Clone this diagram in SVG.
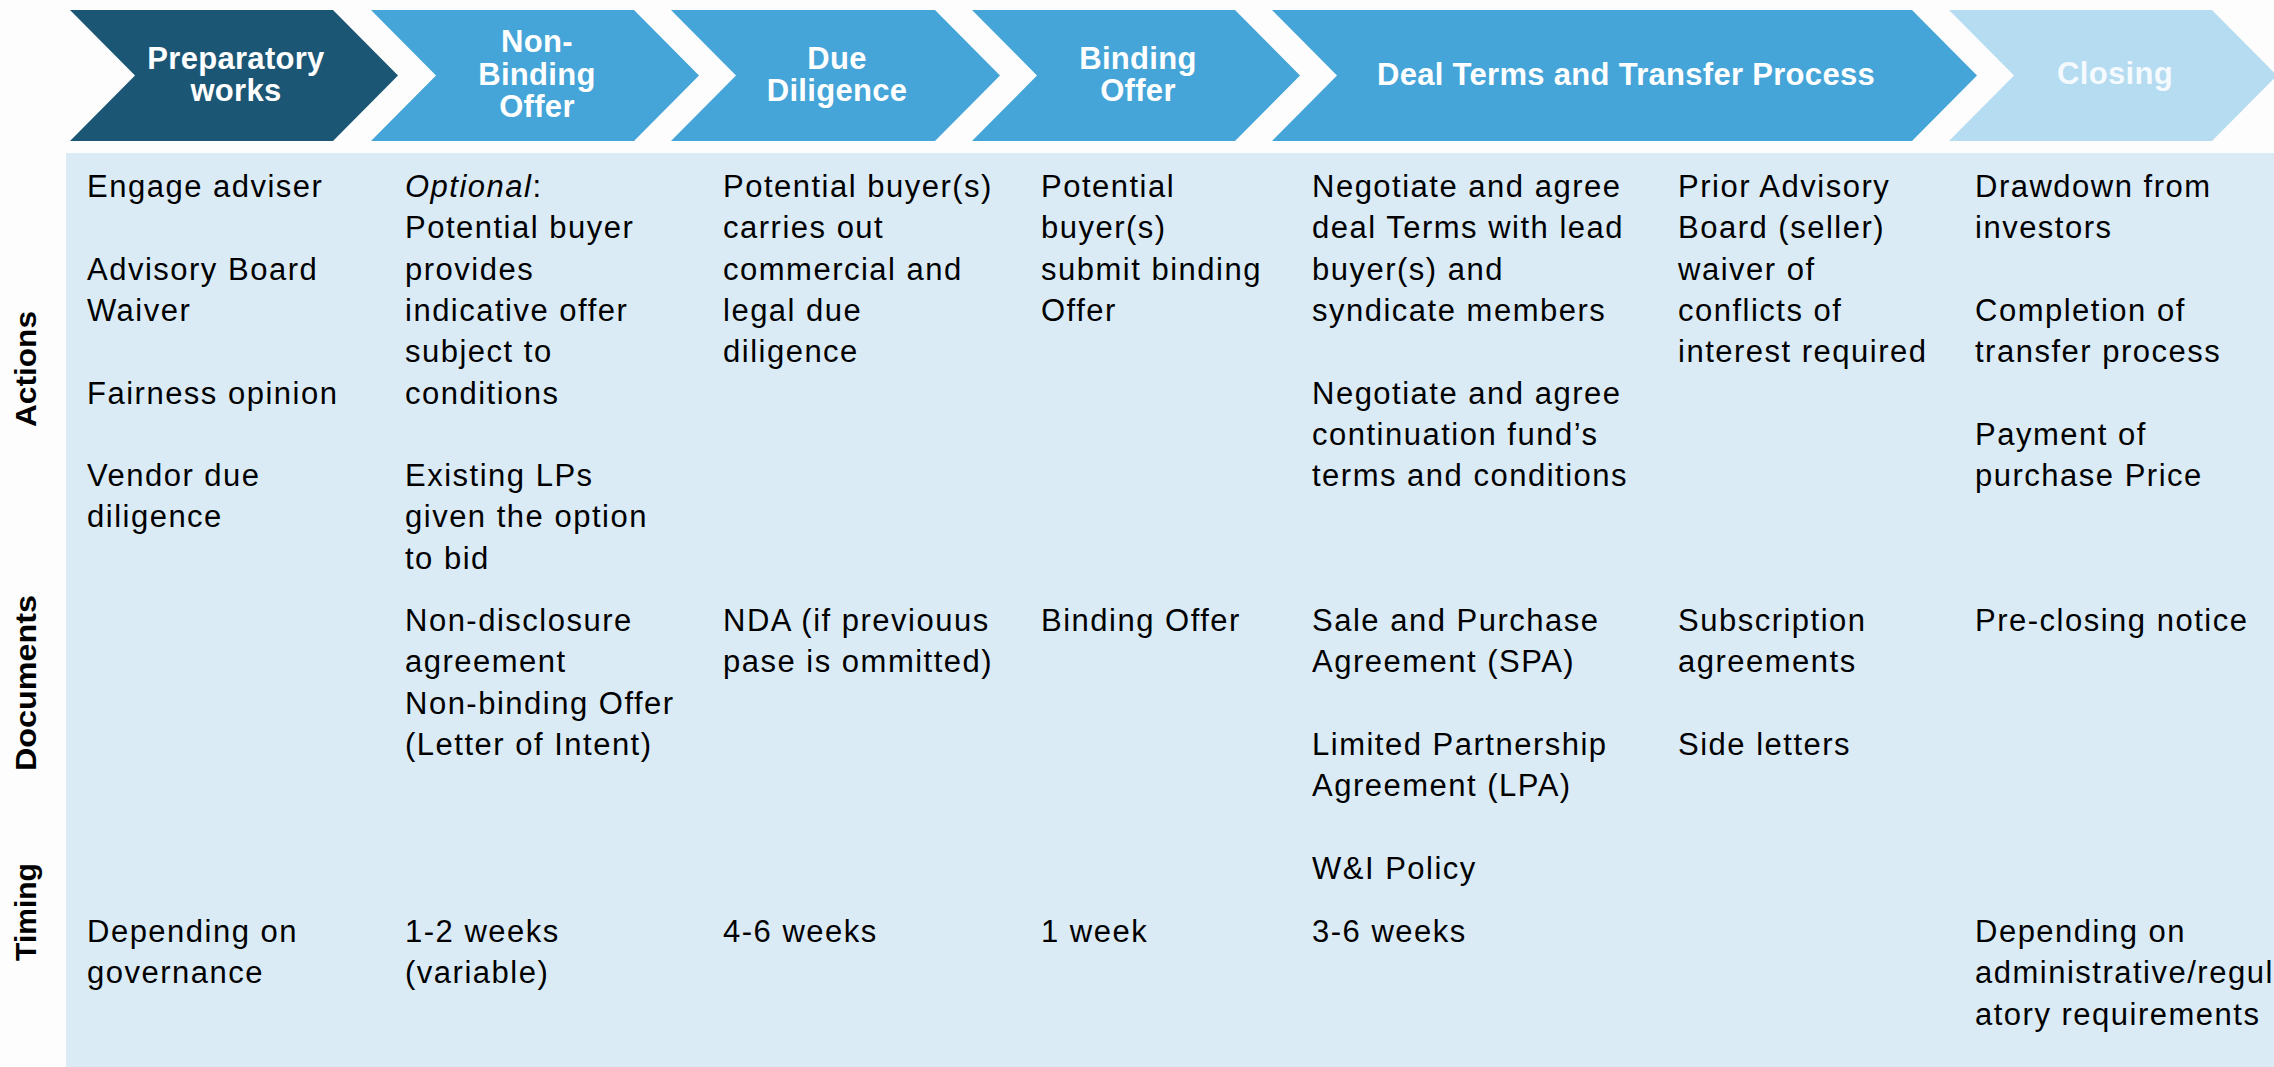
<svg xmlns="http://www.w3.org/2000/svg" width="2274" height="1067" viewBox="0 0 2274 1067">
<style>
.bg{fill:#FDFDFD}
.panel{fill:#DAEBF6}
.c-dark{fill:#1B5675}
.c-mid{fill:#45A5D8}
.c-light{fill:#B5DCF0}
.h{font-family:"Liberation Sans",Arial,sans-serif;font-weight:bold;font-size:31px;letter-spacing:0.3px;fill:#FFFFFF;text-anchor:middle}
.h2{fill:#F4FAFD}
.lab{font-family:"Liberation Sans",Arial,sans-serif;font-weight:bold;font-size:30px;fill:#000000;text-anchor:middle}
.t{font-family:"Liberation Sans",Arial,sans-serif;font-size:31px;letter-spacing:1.5px;fill:#000000}
</style>
<rect class="bg" x="0" y="0" width="2274" height="1067"/>
<rect class="panel" x="66" y="153" width="2208" height="914"/>

<g id="stage-preparatory">
<polygon class="c-dark" points="70,10 333,10 398,75.5 333,141 70,141 135,75.5"/>
<text class="h"><tspan x="236" y="69">Preparatory</tspan><tspan x="236" y="101">works</tspan></text>
</g>
<g id="stage-nonbinding">
<polygon class="c-mid" points="371,10 634,10 699,75.5 634,141 371,141 436,75.5"/>
<text class="h"><tspan x="537" y="52">Non-</tspan><tspan x="537" y="84.5">Binding</tspan><tspan x="537" y="117">Offer</tspan></text>
</g>
<g id="stage-duediligence">
<polygon class="c-mid" points="671,10 935,10 1000,75.5 935,141 671,141 736,75.5"/>
<text class="h"><tspan x="837" y="69">Due</tspan><tspan x="837" y="101">Diligence</tspan></text>
</g>
<g id="stage-binding">
<polygon class="c-mid" points="972,10 1235,10 1300,75.5 1235,141 972,141 1037,75.5"/>
<text class="h"><tspan x="1138" y="69">Binding</tspan><tspan x="1138" y="101">Offer</tspan></text>
</g>
<g id="stage-dealterms">
<polygon class="c-mid" points="1272,10 1912,10 1977,75.5 1912,141 1272,141 1337,75.5"/>
<text class="h" x="1626" y="85">Deal Terms and Transfer Process</text>
</g>
<g id="stage-closing">
<polygon class="c-light" points="1949,10 2212,10 2277,75.5 2212,141 1949,141 2014,75.5"/>
<text class="h h2" x="2115" y="84">Closing</text>
</g>

<g id="row-labels">
<text class="lab" transform="translate(36,369) rotate(-90)" textLength="116" lengthAdjust="spacingAndGlyphs">Actions</text>
<text class="lab" transform="translate(36,683) rotate(-90)" textLength="176" lengthAdjust="spacingAndGlyphs">Documents</text>
<text class="lab" transform="translate(36,912) rotate(-90)">Timing</text>
</g>

<g id="col-preparatory">
<text class="t"><tspan x="87" y="197">Engage adviser</tspan><tspan x="87" y="279.6">Advisory Board</tspan><tspan x="87" y="320.9">Waiver</tspan><tspan x="87" y="403.5">Fairness opinion</tspan><tspan x="87" y="486.1">Vendor due</tspan><tspan x="87" y="527.4">diligence</tspan></text>
<text class="t"><tspan x="87" y="942">Depending on</tspan><tspan x="87" y="983.3">governance</tspan></text>
</g>

<g id="col-nonbinding">
<text class="t"><tspan x="405" y="197" font-style="italic">Optional</tspan><tspan>:</tspan><tspan x="405" y="238.3">Potential buyer</tspan><tspan x="405" y="279.6">provides</tspan><tspan x="405" y="320.9">indicative offer</tspan><tspan x="405" y="362.2">subject to</tspan><tspan x="405" y="403.5">conditions</tspan><tspan x="405" y="486.1">Existing LPs</tspan><tspan x="405" y="527.4">given the option</tspan><tspan x="405" y="568.7">to bid</tspan></text>
<text class="t"><tspan x="405" y="631">Non-disclosure</tspan><tspan x="405" y="672.3">agreement</tspan><tspan x="405" y="713.6">Non-binding Offer</tspan><tspan x="405" y="754.9">(Letter of Intent)</tspan></text>
<text class="t"><tspan x="405" y="942">1-2 weeks</tspan><tspan x="405" y="983.3">(variable)</tspan></text>
</g>

<g id="col-duediligence">
<text class="t"><tspan x="723" y="197">Potential buyer(s)</tspan><tspan x="723" y="238.3">carries out</tspan><tspan x="723" y="279.6">commercial and</tspan><tspan x="723" y="320.9">legal due</tspan><tspan x="723" y="362.2">diligence</tspan></text>
<text class="t"><tspan x="723" y="631">NDA (if previouus</tspan><tspan x="723" y="672.3">pase is ommitted)</tspan></text>
<text class="t" x="723" y="942">4-6 weeks</text>
</g>

<g id="col-binding">
<text class="t"><tspan x="1041" y="197">Potential</tspan><tspan x="1041" y="238.3">buyer(s)</tspan><tspan x="1041" y="279.6">submit binding</tspan><tspan x="1041" y="320.9">Offer</tspan></text>
<text class="t" x="1041" y="631">Binding Offer</text>
<text class="t" x="1041" y="942">1 week</text>
</g>

<g id="col-dealterms">
<text class="t"><tspan x="1312" y="197">Negotiate and agree</tspan><tspan x="1312" y="238.3">deal Terms with lead</tspan><tspan x="1312" y="279.6">buyer(s) and</tspan><tspan x="1312" y="320.9">syndicate members</tspan><tspan x="1312" y="403.5">Negotiate and agree</tspan><tspan x="1312" y="444.8">continuation fund’s</tspan><tspan x="1312" y="486.1">terms and conditions</tspan></text>
<text class="t"><tspan x="1312" y="631">Sale and Purchase</tspan><tspan x="1312" y="672.3">Agreement (SPA)</tspan><tspan x="1312" y="754.9">Limited Partnership</tspan><tspan x="1312" y="796.2">Agreement (LPA)</tspan><tspan x="1312" y="878.8">W&amp;I Policy</tspan></text>
<text class="t" x="1312" y="942">3-6 weeks</text>
</g>

<g id="col-dealterms-2">
<text class="t"><tspan x="1678" y="197">Prior Advisory</tspan><tspan x="1678" y="238.3">Board (seller)</tspan><tspan x="1678" y="279.6">waiver of</tspan><tspan x="1678" y="320.9">conflicts of</tspan><tspan x="1678" y="362.2">interest required</tspan></text>
<text class="t"><tspan x="1678" y="631">Subscription</tspan><tspan x="1678" y="672.3">agreements</tspan><tspan x="1678" y="754.9">Side letters</tspan></text>
</g>

<g id="col-closing">
<text class="t"><tspan x="1975" y="197">Drawdown from</tspan><tspan x="1975" y="238.3">investors</tspan><tspan x="1975" y="320.9">Completion of</tspan><tspan x="1975" y="362.2">transfer process</tspan><tspan x="1975" y="444.8">Payment of</tspan><tspan x="1975" y="486.1">purchase Price</tspan></text>
<text class="t" x="1975" y="631">Pre-closing notice</text>
<text class="t"><tspan x="1975" y="942">Depending on</tspan><tspan x="1975" y="983.3">administrative/regul</tspan><tspan x="1975" y="1024.6">atory requirements</tspan></text>
</g>

<g id="connectors"/>
</svg>
